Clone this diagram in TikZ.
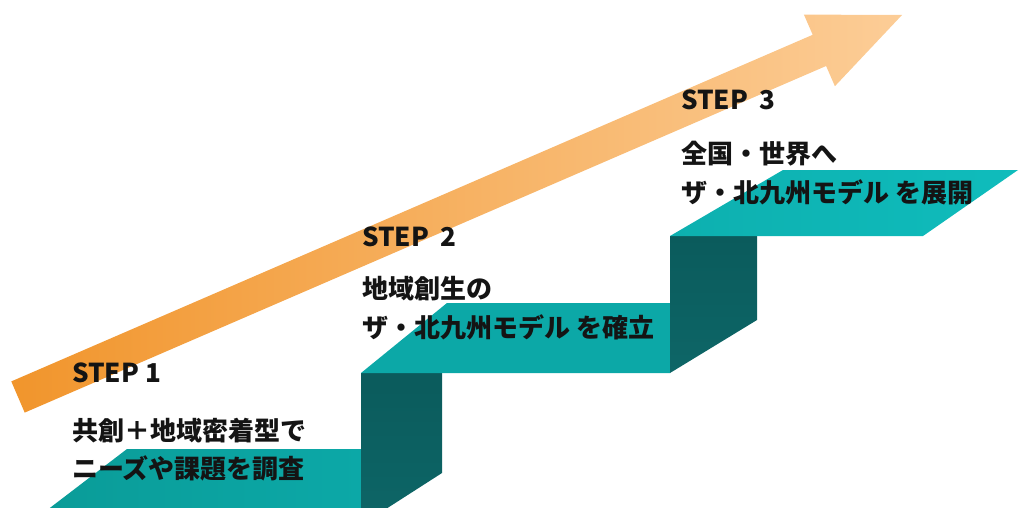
\documentclass[tikz,border=0pt]{standalone}
\usepackage{fontspec}
\newfontfamily\jpfont{Noto Sans CJK JP}
\definecolor{arrowA}{HTML}{F1952C}
\definecolor{arrowB}{HTML}{F6AE58}
\definecolor{arrowC}{HTML}{FCCD97}
\definecolor{treadA}{HTML}{0A9B97}
\definecolor{treadB}{HTML}{0CA8A7}
\definecolor{treadC}{HTML}{0FBCBC}
\definecolor{riser}{HTML}{0B5B5C}
\definecolor{riserB}{HTML}{0D6667}
\begin{document}
\begin{tikzpicture}[x=1pt,y=-1pt,
  lbl/.style={anchor=base west, inner sep=0pt,
    font=\jpfont\bfseries\fontsize{26pt}{30pt}\selectfont, text=black!92},
  riserface/.style={top color=riser, bottom color=riserB}]
\useasboundingbox (0,0) rectangle (1022,508);
\clip (0,0) rectangle (1022,508);
% arrow
\shade[left color=arrowA, middle color=arrowB, right color=arrowC]
  (11.3,381.4) -- (812.7,34.8) -- (803.9,14.6) -- (902,15)
  -- (834.9,86.2) -- (826.1,66) -- (24.7,412.6) -- cycle;
% staircase
\shade[left color=treadA, right color=treadB]
  (21,530) -- (127,449) -- (361,449) -- (361,530) -- cycle;
\shade[riserface] (361,373) -- (442,373) -- (442,473) -- (361,525) -- cycle;
\fill[treadB] (361,373) -- (447,303) -- (668,303) -- (670,303) -- (670,373) -- cycle;
\shade[riserface] (670,236) -- (757,236) -- (757,320) -- (670,373) -- cycle;
\shade[left color=treadB!60!treadC, right color=treadC]
  (670,236) -- (783,170) -- (1018,170) -- (923,236) -- cycle;
% texts
\node[lbl] (s1) at (72,382) {STEP 1};
\node[lbl] (s1a) at (72,440) {共創＋地域密着型で};
\node[lbl] (s1b) at (72,478) {ニーズや課題を調査};
\node[lbl] (s2) at (362,246) {STEP\hspace{0.45em}2};
\node[lbl] (s2a) at (362,298) {地域創生の};
\node[lbl] (s2b) at (362,337) {ザ・北九州モデル を確立};
\node[lbl] (s3) at (681,110) {STEP\hspace{0.45em}3};
\node[lbl] (s3a) at (681,163) {全国・世界へ};
\node[lbl] (s3b) at (681,202) {ザ・北九州モデル を展開};
\end{tikzpicture}
\end{document}
